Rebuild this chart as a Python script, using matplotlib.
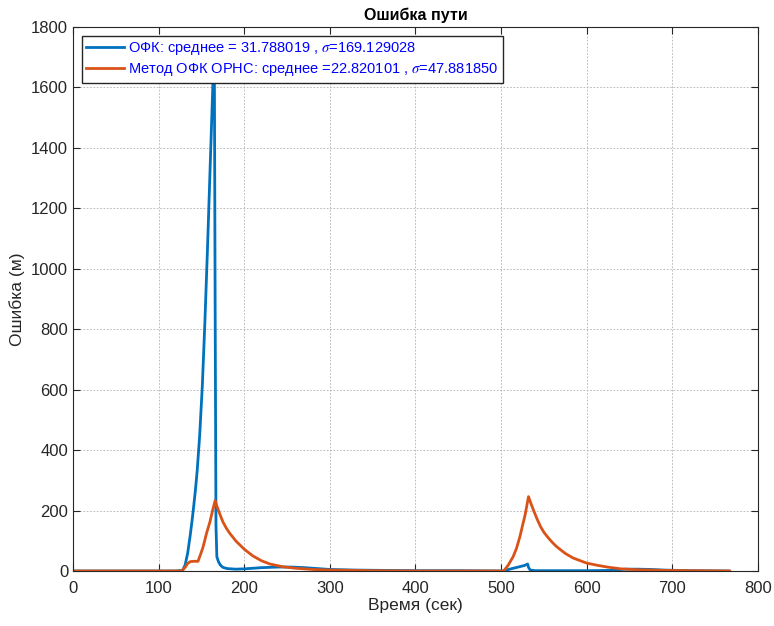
import matplotlib.pyplot as plt

# ОФК (blue) samples
t_ofk = [0, 50, 100, 120, 128, 131, 134, 137, 139, 141, 143, 145, 148, 151, 154, 157,
         160, 163, 165, 166, 167, 168, 170, 172, 175, 180, 190, 200, 210, 220, 240,
         255, 270, 285, 300, 330, 360, 400, 450, 500, 503, 510, 520, 527, 531, 532,
         534, 540, 560, 600, 630, 645, 660, 675, 690, 720, 765]
e_ofk = [0, 0, 0, 0, 2, 20, 60, 120, 165, 215, 268, 330, 450, 610, 820, 1060,
         1320, 1580, 1760, 900, 150, 47, 30, 20, 12, 8, 6, 7, 9, 11, 13,
         13, 11, 8, 5, 3, 2, 1, 1, 0, 0, 6, 13, 18, 23, 12,
         3, 1, 1, 1, 2, 6, 6, 5, 3, 1, 0]

# Метод ОФК ОРНС (orange)
t_orns = [0, 50, 100, 125, 128, 131, 134, 137, 141, 146, 149, 152, 156, 160, 163,
          166, 168, 171, 175, 179, 183, 190, 200, 210, 220, 230, 245, 260, 280, 300,
          350, 400, 450, 500, 503, 508, 514, 518, 522, 525, 528, 532, 535, 538, 542,
          546, 550, 555, 560, 565, 575, 584, 600, 612, 624, 640, 660, 690, 720, 767]
e_orns = [0, 0, 0, 0, 3, 12, 25, 31, 32, 32, 55, 80, 125, 163, 200,
          233, 215, 192, 163, 142, 125, 100, 72, 50, 34, 23, 14, 9, 5, 3,
          1, 0, 0, 0, 0, 18, 47, 75, 114, 150, 185, 246, 222, 200, 172,
          147, 128, 110, 94, 80, 58, 43, 26, 19, 13, 7, 4, 2, 1, 0]

mean_ofk, std_ofk = 31.788019, 169.129028
mean_orns, std_orns = 22.820101, 47.881850

plt.rcParams['font.family'] = ['Liberation Sans', 'DejaVu Sans']
plt.rcParams['mathtext.fontset'] = 'stix'

fig = plt.figure(figsize=(7.74, 6.26), dpi=100)
ax = fig.add_axes([0.0943, 0.0879, 0.885, 0.869])

ax.plot(t_ofk, e_ofk, color='#0072BD', lw=2,
        label='ОФК: среднее = %.6f , $\\sigma$=%.6f' % (mean_ofk, std_ofk))
ax.plot(t_orns, e_orns, color='#D95319', lw=2,
        label='Метод ОФК ОРНС: среднее =%.6f , $\\sigma$=%.6f' % (mean_orns, std_orns))

ax.set_xlim(0, 800)
ax.set_ylim(0, 1800)
ax.set_xticks(range(0, 801, 100))
ax.set_yticks(range(0, 1801, 200))
ax.grid(True, color='#b0b0b0', linestyle=(0, (2, 2)), linewidth=0.6)
ax.tick_params(direction='in', top=True, right=True, labelsize=12,
               colors='#262626', length=5)
ax.tick_params(axis='x', pad=7)
for s in ax.spines.values():
    s.set_color('#262626')
    s.set_linewidth(0.8)

ax.set_title('Ошибка пути', fontsize=11.5, fontweight='bold', pad=5)
ax.set_xlabel('Время (сек)', fontsize=12.5, color='#262626', labelpad=2)
ax.set_ylabel('Ошибка (м)', fontsize=12.5, color='#262626')

leg = ax.legend(loc='upper left', fontsize=10.5, frameon=True, fancybox=False,
                edgecolor='#262626', handlelength=2.6, handletextpad=0.3,
                borderpad=0.3, labelspacing=0.3, borderaxespad=0.6)
leg.get_frame().set_alpha(1)
for txt in leg.get_texts():
    txt.set_color('#0000ff')

fig.savefig('out.png', dpi=100)
